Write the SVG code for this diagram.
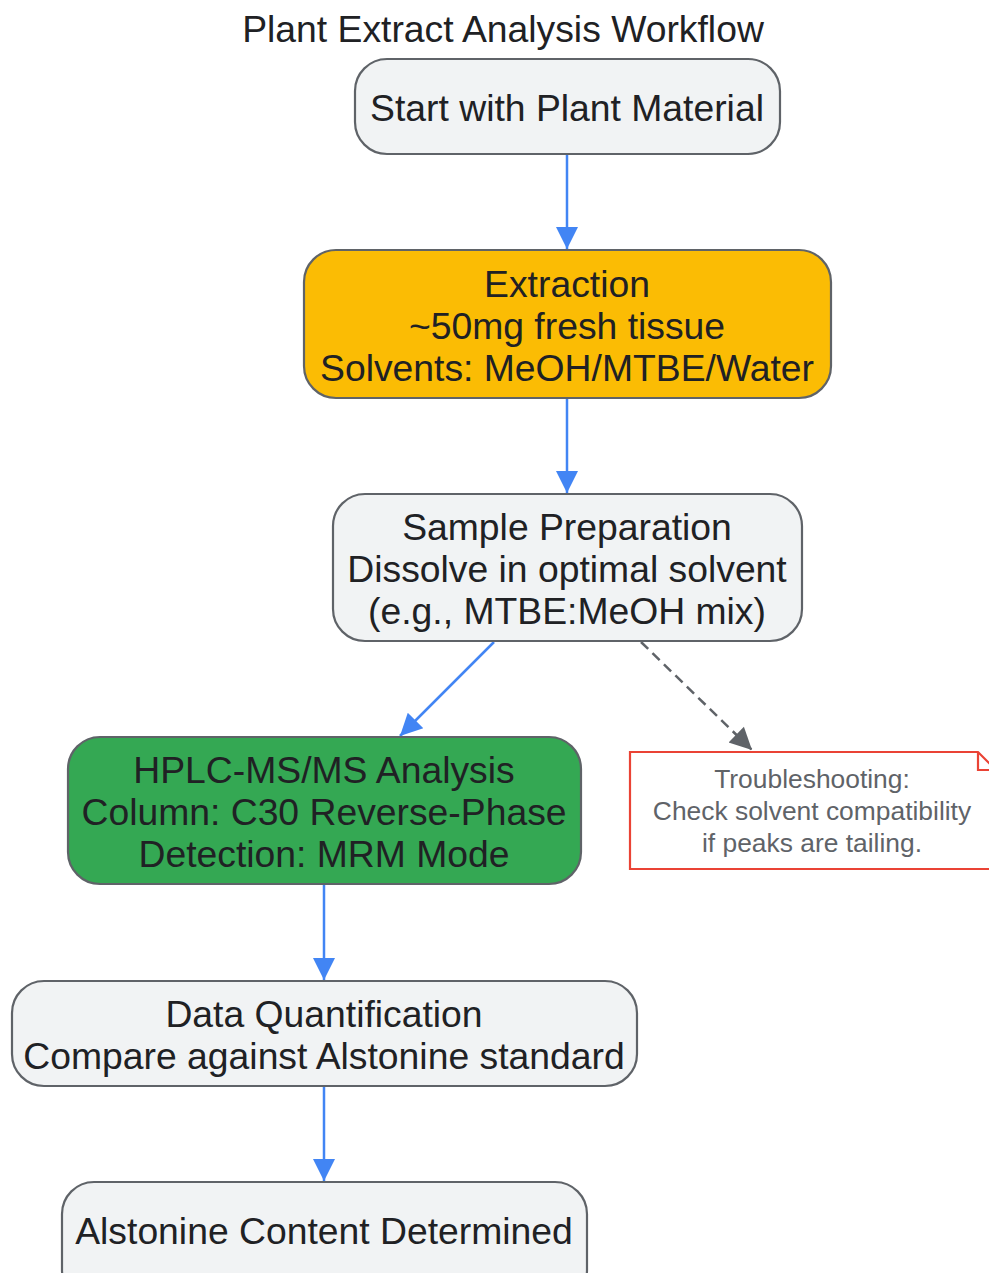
<svg xmlns="http://www.w3.org/2000/svg" width="989" height="1273" viewBox="0 0 989 1273">
<style>
.node{stroke:#5F6368;stroke-width:2.2}
.t{font-family:"Liberation Sans",Arial,sans-serif;font-size:37.3px;fill:#202124;text-anchor:middle;dominant-baseline:central}
.nt{font-family:"Liberation Sans",Arial,sans-serif;font-size:26.4px;fill:#5F6368;text-anchor:middle;dominant-baseline:central}
.e{fill:none;stroke:#4285F4;stroke-width:2.5}
.d{fill:none;stroke:#5F6368;stroke-width:2.5;stroke-dasharray:10 6}
</style>
<defs>
<marker id="ab" viewBox="0 0 10 10" refX="10" refY="5" markerUnits="userSpaceOnUse" markerWidth="30" markerHeight="22" orient="auto"><path d="M0,0L10,5L0,10z" fill="#4285F4"/></marker>
<marker id="ag" viewBox="0 0 10 10" refX="10" refY="5" markerUnits="userSpaceOnUse" markerWidth="30" markerHeight="22" orient="auto"><path d="M0,0L10,5L0,10z" fill="#5F6368"/></marker>
</defs>
<rect width="989" height="1273" fill="#fff"/>
<text x="503" y="29" class="t">Plant Extract Analysis Workflow</text>
<g id="connectors">
<path class="e" d="M567,154V249" marker-end="url(#ab)"/>
<path class="e" d="M567,398V493" marker-end="url(#ab)"/>
<path class="e" d="M494,642L400,736" marker-end="url(#ab)"/>
<path class="d" d="M641,642L752,750" marker-end="url(#ag)"/>
<path class="e" d="M324,884V980" marker-end="url(#ab)"/>
<path class="e" d="M324,1086V1181" marker-end="url(#ab)"/>
</g>
<g id="start"><rect class="node" x="355" y="59" width="425" height="95" rx="32" fill="#F1F3F4"/><text class="t" x="567" y="108">Start with Plant Material</text></g>
<g id="extraction"><rect class="node" x="304" y="250" width="527" height="148" rx="32" fill="#FBBC04"/><text class="t" x="567" y="284">Extraction</text><text class="t" x="567" y="326">~50mg fresh tissue</text><text class="t" x="567" y="368">Solvents: MeOH/MTBE/Water</text></g>
<g id="prep"><rect class="node" x="333" y="494" width="469" height="147" rx="32" fill="#F1F3F4"/><text class="t" x="567" y="527">Sample Preparation</text><text class="t" x="567" y="569">Dissolve in optimal solvent</text><text class="t" x="567" y="611">(e.g., MTBE:MeOH mix)</text></g>
<g id="hplc"><rect class="node" x="68" y="737" width="513" height="147" rx="32" fill="#34A853"/><text class="t" x="324" y="770">HPLC-MS/MS Analysis</text><text class="t" x="324" y="812">Column: C30 Reverse-Phase</text><text class="t" x="324" y="854">Detection: MRM Mode</text></g>
<g id="note"><path d="M630,752H978L996,770V869H630Z" fill="#fff" stroke="#EA4335" stroke-width="2.2"/><path d="M978,752V770H996" fill="none" stroke="#EA4335" stroke-width="2.2"/><text class="nt" x="812" y="779">Troubleshooting:</text><text class="nt" x="812" y="811">Check solvent compatibility</text><text class="nt" x="812" y="843">if peaks are tailing.</text></g>
<g id="quant"><rect class="node" x="12" y="981" width="625" height="105" rx="32" fill="#F1F3F4"/><text class="t" x="324" y="1014">Data Quantification</text><text class="t" x="324" y="1056">Compare against Alstonine standard</text></g>
<g id="result"><rect class="node" x="62" y="1182" width="525" height="120" rx="32" fill="#F1F3F4"/><text class="t" x="324" y="1231">Alstonine Content Determined</text></g>
</svg>
